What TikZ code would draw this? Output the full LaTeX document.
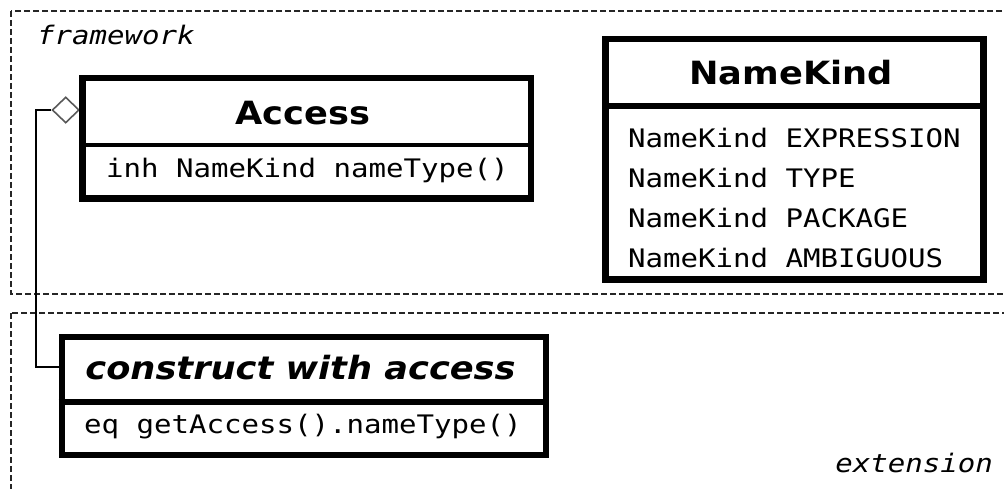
\documentclass[tikz,border=0pt]{standalone}
\usepackage{fontspec}
\setmainfont{DejaVu Sans}
\newfontfamily\umltitle[FakeStretch=1.1]{DejaVu Sans}
\newfontfamily\umlmono[FakeStretch=1.14]{DejaVu Sans Mono}
\usetikzlibrary{shapes.geometric}
\begin{document}
\begin{tikzpicture}[x=1pt,y=-1pt,
  pkg/.style={draw=black!85, line width=1.5pt, dash pattern=on 6pt off 3pt},
  pkglabel/.style={font=\umlmono\itshape\fontsize{25.5}{30}\selectfont, inner sep=0},
  classframe/.style={draw=black, fill=white, line width=6.5pt, inner sep=0, anchor=north west},
  divider/.style={draw=black, line width=#1},
  classtitle/.style={font=\umltitle\bfseries\fontsize{32}{38}\selectfont, inner sep=0, anchor=base},
  member/.style={font=\umlmono\fontsize{25.5}{30}\selectfont, inner sep=0, anchor=base west},
  conn/.style={draw=black, line width=1.4pt},
  aggr/.style={diamond, draw=black!65, fill=white, line width=1.6pt, inner sep=0,
    minimum width=27pt, minimum height=26pt, anchor=east}]
\useasboundingbox (0,0) rectangle (1004,489);
\clip (0,0) rectangle (1004,489);

% package frames (open to the right)
\draw[pkg] (11,11) rectangle (1020,294);
\draw[pkg] (11,313) rectangle (1020,500);
\node[pkglabel, anchor=base west] (fwlabel) at (37,45) {framework};
\node[pkglabel, anchor=base east] (extlabel) at (993,472) {extension};

% class Access
\node[aggr] (dia) at (80,110) {};
\node[classframe, minimum width=448.5pt, minimum height=120.5pt] (accessBox) at (79,75) {};
\draw[divider=4pt] (accessBox.west |- 0,145) -- (accessBox.east |- 0,145);
\node[classtitle] (accessTitle) at (303,124.5) {Access};
\node[member] (accessAttr) at (106,177.5) {inh NameKind nameType()};

% enum NameKind
\node[classframe, minimum width=378pt, minimum height=240pt] (nkBox) at (602,36) {};
\draw[divider=6pt] (nkBox.west |- 0,106) -- (nkBox.east |- 0,106);
\node[classtitle] (nkTitle) at (791,85) {NameKind};
\node[member] (nk1) at (628,148) {NameKind EXPRESSION};
\node[member] (nk2) at (628,188) {NameKind TYPE};
\node[member] (nk3) at (628,228) {NameKind PACKAGE};
\node[member] (nk4) at (628,268) {NameKind AMBIGUOUS};

% class construct with access
\node[classframe, minimum width=484pt, minimum height=118pt] (cwaBox) at (58.5,333.5) {};
\draw[divider=6.5pt] (cwaBox.west |- 0,402) -- (cwaBox.east |- 0,402);
\node[classtitle] (cwaTitle) at (300.5,379) {\itshape construct with access};
\node[member] (cwaAttr) at (84,433) {eq getAccess().nameType()};

% aggregation connector
\coordinate (bend) at (36,110);
\draw[conn] (dia.west) -- (bend) |- (cwaBox.west |- cwaTitle.center);
\end{tikzpicture}
\end{document}
